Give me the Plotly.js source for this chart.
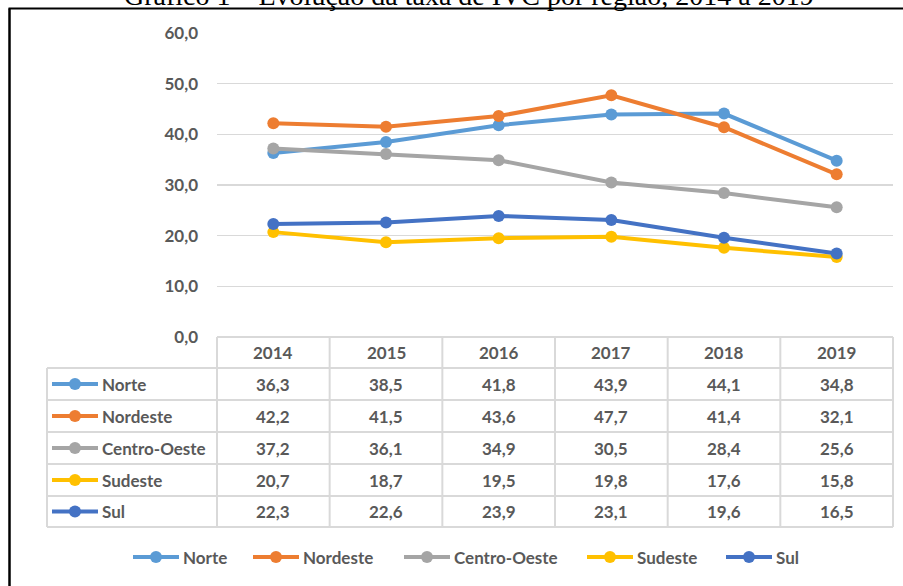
<!DOCTYPE html>
<html><head><meta charset="utf-8">
<script src="https://cdn.plot.ly/plotly-3.0.1.min.js"></script>
<style>html,body{margin:0;padding:0;background:#fff;}</style>
</head><body>
<div id="chart" style="width:903px;height:586px;"></div>
<script>
// ---- data ----
const years = ['2014', '2015', '2016', '2017', '2018', '2019'];
const seriesNames = ['Norte', 'Nordeste', 'Centro-Oeste', 'Sudeste', 'Sul'];
const norte = [36.3, 38.5, 41.8, 43.9, 44.1, 34.8];
const nordeste = [42.2, 41.5, 43.6, 47.7, 41.4, 32.1];
const centroOeste = [37.2, 36.1, 34.9, 30.5, 28.4, 25.6];
const sudeste = [20.7, 18.7, 19.5, 19.8, 17.6, 15.8];
const sul = [22.3, 22.6, 23.9, 23.1, 19.6, 16.5];
const yTicks = [0, 10, 20, 30, 40, 50, 60];
const titleText = 'Gráfico 1 – Evolução da taxa de IVC por região, 2014 a 2019';

// ---- styles / layout ----
const seriesValues = [norte, nordeste, centroOeste, sudeste, sul];
const colors = ['#5B9BD5', '#ED7D31', '#A5A5A5', '#FFC000', '#4472C4'];
const W = 903, H = 586;
const PL = 217, PR = 893, PT = 33, PB = 337;
const rowEdges = [337, 368, 400, 432, 464, 496, 527];
const tableLeft = 47;
const txtColor = '#595959';
const gridColor = '#D9D9D9';
const FONT = 'Lato, "Open Sans", sans-serif';
const px = x => x / W;
const py = y => 1 - y / H;

const traces = seriesValues.map((vals, i) => ({
  type: 'scatter', mode: 'lines+markers',
  x: years, y: vals, name: seriesNames[i],
  line: {color: colors[i], width: 4},
  marker: {color: colors[i], size: 12},
  cliponaxis: false, showlegend: false, hoverinfo: 'x+y+name'
}));

const shapes = [];
const annotations = [];
const tl = {color: gridColor, width: 2};

// table grid
const nCols = years.length;
const colW = (PR - PL) / nCols;
shapes.push({type: 'line', xref: 'paper', yref: 'paper', x0: px(PL), x1: px(PR), y0: py(rowEdges[0]), y1: py(rowEdges[0]), line: tl});
for (let r = 1; r < rowEdges.length; r++) {
  shapes.push({type: 'line', xref: 'paper', yref: 'paper', x0: px(tableLeft), x1: px(PR), y0: py(rowEdges[r]), y1: py(rowEdges[r]), line: tl});
}
for (let c = 0; c <= nCols; c++) {
  const xx = PL + c * colW;
  shapes.push({type: 'line', xref: 'paper', yref: 'paper', x0: px(xx), x1: px(xx), y0: py(rowEdges[0]), y1: py(rowEdges[rowEdges.length - 1]), line: tl});
}
shapes.push({type: 'line', xref: 'paper', yref: 'paper', x0: px(tableLeft), x1: px(tableLeft), y0: py(rowEdges[1]), y1: py(rowEdges[rowEdges.length - 1]), line: tl});

const cellFont = {family: FONT, size: 17, color: txtColor, weight: 700};
// header (category index on the x axis)
years.forEach((yr, j) => annotations.push({
  xref: 'x', yref: 'paper', x: j, y: py((rowEdges[0] + rowEdges[1]) / 2),
  text: yr, showarrow: false, xanchor: 'center', yanchor: 'middle', font: cellFont
}));

function legendKey(x, y, color) {
  shapes.push({type: 'line', xref: 'paper', yref: 'paper', x0: px(x), x1: px(x + 46), y0: py(y), y1: py(y), line: {color: color, width: 4}});
  shapes.push({type: 'circle', xref: 'paper', yref: 'paper', x0: px(x + 23 - 6), x1: px(x + 23 + 6), y0: py(y - 6), y1: py(y + 6), fillcolor: color, line: {width: 0}});
}

// rows
seriesNames.forEach((nm, i) => {
  const cy = (rowEdges[i + 1] + rowEdges[i + 2]) / 2;
  legendKey(52, cy, colors[i]);
  annotations.push({xref: 'paper', yref: 'paper', x: px(100), y: py(cy), text: nm, showarrow: false, xanchor: 'left', yanchor: 'middle', font: cellFont});
  seriesValues[i].forEach((v, j) => annotations.push({
    xref: 'x', yref: 'paper', x: j, y: py(cy),
    text: v.toFixed(1).replace('.', ','), showarrow: false, xanchor: 'center', yanchor: 'middle', font: cellFont
  }));
});

// bottom legend
const legX = [133, 253, 404, 587, 726];
const legY = 557;
seriesNames.forEach((nm, i) => {
  legendKey(legX[i], legY, colors[i]);
  annotations.push({xref: 'paper', yref: 'paper', x: px(legX[i] + 48), y: py(legY), text: nm, showarrow: false, xanchor: 'left', yanchor: 'middle', font: cellFont});
});

// outer frame
shapes.push({type: 'line', xref: 'paper', yref: 'paper', x0: px(9.5), x1: px(9.5), y0: py(8.5), y1: py(H + 5), line: {color: '#000', width: 2.5}});
shapes.push({type: 'line', xref: 'paper', yref: 'paper', x0: px(8.5), x1: px(W + 5), y0: py(8.5), y1: py(8.5), line: {color: '#000', width: 2}});

// title (cut by the top edge, as in the source image)
annotations.push({xref: 'paper', yref: 'paper', x: px(469), y: py(-4.5), text: titleText, showarrow: false,
  xanchor: 'center', yanchor: 'middle', font: {family: '"Liberation Serif", "Times New Roman", serif', size: 28, color: '#000'}});

const layout = {
  width: W, height: H,
  margin: {l: 0, r: 0, t: 0, b: 0},
  paper_bgcolor: '#fff', plot_bgcolor: 'rgba(0,0,0,0)',
  separators: ',.',
  showlegend: false,
  xaxis: {domain: [px(PL), px(PR)], type: 'category', range: [-0.5, years.length - 0.5],
    showgrid: false, zeroline: false, showline: false, showticklabels: false, ticks: '', fixedrange: true},
  yaxis: {domain: [py(PB), py(PT)], range: [0, 60], tickvals: yTicks, tickformat: '.1f',
    showgrid: true, gridcolor: gridColor, gridwidth: 1.3, zeroline: false, showline: false,
    ticks: '', ticklabelstandoff: 18, tickfont: {family: FONT, size: 17, color: txtColor, weight: 700}, fixedrange: true},
  shapes: shapes,
  annotations: annotations
};

Plotly.newPlot('chart', traces, layout, {displayModeBar: false, staticPlot: true});
</script>
</body></html>
